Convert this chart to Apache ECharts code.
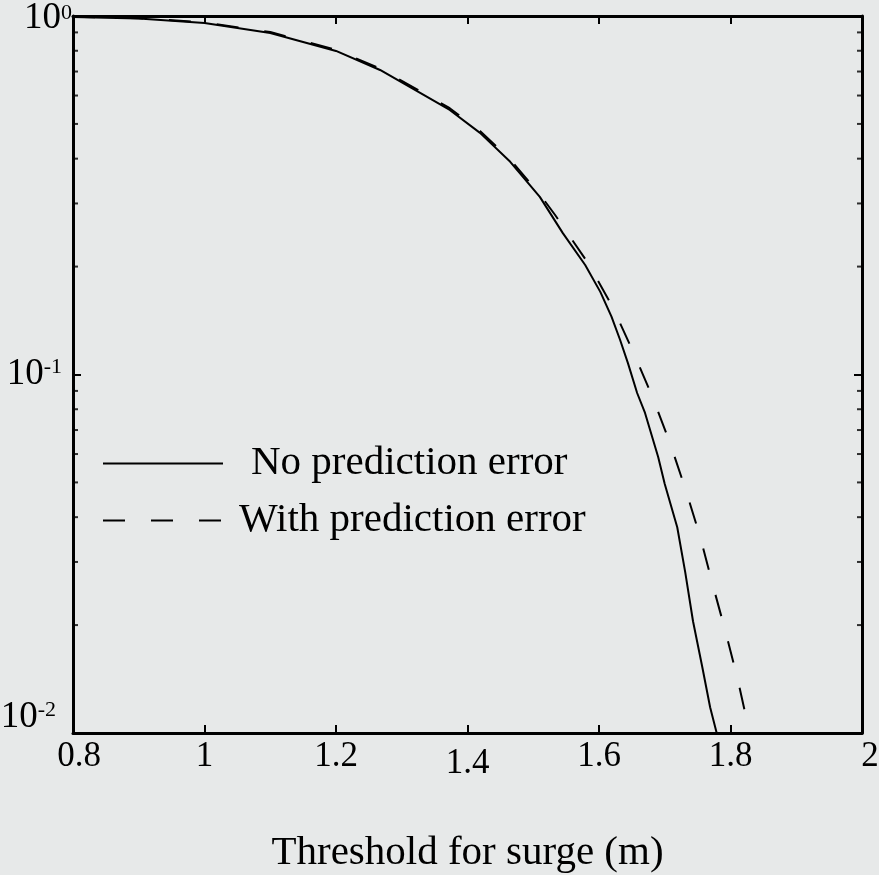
<!DOCTYPE html>
<html>
<head>
<meta charset="utf-8">
<script src="https://cdn.jsdelivr.net/npm/echarts@6/dist/echarts.min.js"></script>
<style>
  html, body { margin: 0; padding: 0; background: #e7e9e9; }
  #chart { width: 879px; height: 875px; }
</style>
</head>
<body>
<div id="chart"></div>
<script>
// surge exceedance curves
const xNoErr = [0.8, 0.9, 1.0, 1.1, 1.2, 1.267, 1.328, 1.373, 1.419, 1.465, 1.51, 1.545, 1.579, 1.602, 1.619, 1.632, 1.644, 1.658, 1.67, 1.69, 1.70, 1.719, 1.731, 1.743, 1.757, 1.769, 1.779];
const yNoErr = [0.994, 0.984, 0.956, 0.897, 0.799, 0.707, 0.610, 0.547, 0.472, 0.392, 0.313, 0.248, 0.202, 0.170, 0.145, 0.125, 0.1076, 0.0888, 0.0781, 0.0589, 0.0495, 0.0375, 0.0282, 0.0205, 0.0153, 0.0118, 0.0100];

const xWithErr = [0.8, 0.9, 1.0, 1.1, 1.2, 1.267, 1.328, 1.373, 1.419, 1.465, 1.51, 1.533, 1.583, 1.621, 1.652, 1.682, 1.708, 1.732, 1.754, 1.773, 1.793, 1.811, 1.827, 1.83];
const yWithErr = [0.995, 0.986, 0.960, 0.902, 0.805, 0.713, 0.617, 0.553, 0.478, 0.398, 0.318, 0.279, 0.205, 0.154, 0.1156, 0.086, 0.0644, 0.0476, 0.0352, 0.0259, 0.0190, 0.0141, 0.0104, 0.0100];

const seriesNames = ['No prediction error', 'With prediction error'];
const xTitle = 'Threshold for surge (m)';
// minor ticks of the log axis (2..9 in each decade)
const minorTicks = [0.02, 0.03, 0.04, 0.05, 0.06, 0.07, 0.08, 0.09, 0.2, 0.3, 0.4, 0.5, 0.6, 0.7, 0.8, 0.9];

const font = 'Liberation Serif';
const xMin = 0.8, xMax = 2;

const myChart = echarts.init(document.getElementById('chart'));

const axisLine = { show: true, lineStyle: { color: '#000', width: 3 } };
const axisTick = { show: true, inside: true, length: 8, lineStyle: { color: '#000', width: 2 } };

const minorTickSeries = (xv, off) => ({
    type: 'scatter',
    silent: true,
    clip: false,
    symbol: 'rect',
    symbolSize: [5, 2],
    symbolOffset: [off, 0],
    itemStyle: { color: '#000' },
    data: minorTicks.map(v => [xv, v]),
    z: 5
});

const legendBase = {
    left: 102, padding: 0,
    itemWidth: 120, itemHeight: 40,
    itemStyle: { color: 'transparent', borderWidth: 0, opacity: 0 }
};

let option = {
    backgroundColor: '#e7e9e9',
    animation: false,
    grid: { left: 73, right: 17, top: 16, bottom: 142, outerBoundsMode: 'none', containLabel: false },
    legend: [
        Object.assign({}, legendBase, {
            data: [seriesNames[0]], top: 443,
            textStyle: { fontFamily: font, fontSize: 41, color: '#000', lineHeight: 40, padding: [0, 0, 0, 23] }
        }),
        Object.assign({}, legendBase, {
            data: [seriesNames[1]], top: 500,
            textStyle: { fontFamily: font, fontSize: 41, color: '#000', lineHeight: 40, padding: [0, 0, 0, 11] }
        })
    ],
    xAxis: [
        {
            type: 'value', min: xMin, max: xMax, interval: 0.2,
            axisLine: axisLine, axisTick: axisTick, splitLine: { show: false },
            name: xTitle, nameLocation: 'middle', nameGap: 100,
            nameTextStyle: { fontFamily: font, fontSize: 41, color: '#000' },
            axisLabel: {
                margin: 6, color: '#000', fontFamily: font, fontSize: 35,
                showMinLabel: true, showMaxLabel: true,
                formatter: function (v) {
                    const s = String(Math.round(v * 10) / 10);
                    if (Math.abs(v - 0.8) < 1e-6) return '{first|' + s + '}';
                    if (Math.abs(v - 2) < 1e-6) return '{last|' + s + '}';
                    if (Math.abs(v - 1.4) < 1e-6) return '{low|' + s + '}';
                    return s;
                },
                rich: {
                    first: { fontFamily: font, fontSize: 35, color: '#000', padding: [0, 0, 0, 12] },
                    last: { fontFamily: font, fontSize: 35, color: '#000', padding: [0, 0, 0, 16] },
                    low: { fontFamily: font, fontSize: 35, color: '#000', padding: [7, 0, 0, 0] }
                }
            }
        },
        {
            type: 'value', min: xMin, max: xMax, interval: 0.2, position: 'top',
            axisLine: axisLine, axisTick: axisTick, splitLine: { show: false },
            axisLabel: { show: false }
        }
    ],
    yAxis: [
        {
            type: 'log', logBase: 10, min: 0.01, max: 1,
            axisLine: axisLine, axisTick: axisTick, splitLine: { show: false },
            axisLabel: {
                margin: 1, color: '#000',
                formatter: function (v) {
                    const e = Math.round(Math.log10(v));
                    if (e === 0) return '{b0|10}{s0|0}';
                    if (e === -1) return '{b|10}{s1|-1}';
                    return '{b|10}{s2|-2}\n{gap|}';
                },
                rich: {
                    b: { fontFamily: font, fontSize: 37, color: '#000', lineHeight: 36 },
                    b0: { fontFamily: font, fontSize: 37, color: '#000', lineHeight: 36, padding: [4, 0, 0, 0] },
                    s0: { fontFamily: font, fontSize: 22, color: '#000', lineHeight: 22, verticalAlign: 'top', padding: [4, 0, 0, 0] },
                    s1: { fontFamily: font, fontSize: 22, color: '#000', lineHeight: 22, verticalAlign: 'top', padding: [0, 10, 0, 0] },
                    s2: { fontFamily: font, fontSize: 22, color: '#000', lineHeight: 22, verticalAlign: 'top', padding: [0, 16, 0, 0] },
                    gap: { fontSize: 10, height: 32, lineHeight: 32 }
                }
            }
        },
        {
            type: 'log', logBase: 10, min: 0.01, max: 1, position: 'right',
            axisLine: axisLine, axisTick: axisTick, splitLine: { show: false },
            axisLabel: { show: false }
        }
    ],
    series: [
        {
            name: seriesNames[0],
            type: 'line',
            symbol: 'none',
            lineStyle: { color: '#000', width: 2 },
            itemStyle: { color: '#000' },
            data: xNoErr.map((x, i) => [x, yNoErr[i]]),
            z: 3
        },
        {
            name: seriesNames[1],
            type: 'line',
            symbol: 'none',
            lineStyle: { color: '#000', width: 2, type: [22, 26] },
            itemStyle: { color: '#000' },
            data: xWithErr.map((x, i) => [x, yWithErr[i]]),
            z: 3
        },
        minorTickSeries(xMin, 2.5),
        minorTickSeries(xMax, -2.5)
    ]
};

option && myChart.setOption(option);
</script>
</body>
</html>
